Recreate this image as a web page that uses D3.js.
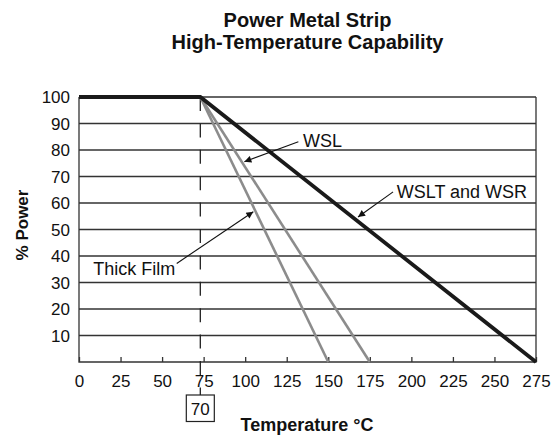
<!DOCTYPE html>
<html><head><meta charset="utf-8">
<script src="https://cdn.jsdelivr.net/npm/d3@7"></script>
<style>
html,body{margin:0;padding:0;background:#fff;}
text{font-family:"Liberation Sans",Arial,Helvetica,sans-serif;fill:#111;}
</style></head>
<body><svg id="c" width="560" height="436"></svg>
<script>
// ---- data ----
const titleLines = ["Power Metal Strip", "High-Temperature Capability"];
const xTicks = [0, 25, 50, 75, 100, 125, 150, 175, 200, 225, 250, 275];
const yTicks = [10, 20, 30, 40, 50, 60, 70, 80, 90, 100];
const kneeTemp = 73;          // where derating begins (drawn position)
const kneeLabel = "70";
const wsltTemp = [0, kneeTemp, 275];
const wsltPower = [100, 100, 0];
const wslTemp = [kneeTemp, 175];
const wslPower = [100, 0];
const thickTemp = [kneeTemp, 150];
const thickPower = [100, 0];
// annotation labels: text, label anchor (temp, power), arrow from (temp, power) to (temp, power)
const annLabels = ["WSL", "WSLT and WSR", "Thick Film"];
const annLabelAt = [[134.8, 81.2], [191.2, 61.8], [8.6, 32.8]];
const annArrowFrom = [[132.0, 83.1], [189.0, 64.2], [58.8, 37.2]];
const annArrowTo = [[99.5, 75.6], [167.9, 54.7], [104.9, 56.7]];

// ---- drawing ----
const svg = d3.select("#c");
const x = d3.scaleLinear().domain([0, 275]).range([79, 536]);
const y = d3.scaleLinear().domain([0, 100]).range([362, 97]);

svg.append("defs").append("marker")
  .attr("id", "ah").attr("viewBox", "0 0 10 10").attr("refX", 10).attr("refY", 5)
  .attr("markerWidth", 9).attr("markerHeight", 7).attr("markerUnits", "userSpaceOnUse")
  .attr("orient", "auto")
  .append("path").attr("d", "M0,0 L10,5 L0,10 z").attr("fill", "#111");

// title
svg.selectAll("text.title").data(titleLines).join("text")
  .attr("class", "title")
  .attr("x", 307.5).attr("y", (d, i) => 26.5 + i * 22.5)
  .attr("text-anchor", "middle").attr("font-size", 20).attr("font-weight", "bold")
  .text(d => d);

// gridlines
svg.append("g").selectAll("line").data(yTicks).join("line")
  .attr("x1", x(0)).attr("x2", x(275)).attr("y1", d => y(d)).attr("y2", d => y(d))
  .attr("stroke", "#333").attr("stroke-width", 1.3);

// frame (left, right, bottom)
svg.append("path")
  .attr("d", `M${x(0)},${y(100)}V${y(0)}H${x(275)}V${y(100)}`)
  .attr("fill", "none").attr("stroke", "#333").attr("stroke-width", 1.3);

// y labels
svg.append("g").selectAll("text").data(yTicks).join("text")
  .attr("x", 70).attr("y", d => y(d)).attr("dy", "0.36em")
  .attr("text-anchor", "end").attr("font-size", 17).text(d => d);

// x axis ticks (inward) + labels
const xAxis = d3.axisBottom(x).tickValues(xTicks).tickSize(-5).tickPadding(10).tickSizeOuter(0);
const gx = svg.append("g").attr("transform", `translate(0,${y(0)})`).call(xAxis);
gx.select(".domain").remove();
gx.selectAll(".tick line").attr("stroke", "#333").attr("stroke-width", 1.3);
gx.selectAll(".tick text").attr("font-size", 17).attr("font-family", "Liberation Sans, Arial, sans-serif")
  .attr("fill", "#111").attr("dy", null).attr("y", 24.5);

// dashed knee line
svg.append("line")
  .attr("x1", x(kneeTemp)).attr("x2", x(kneeTemp)).attr("y1", y(100)).attr("y2", 395)
  .attr("stroke", "#222").attr("stroke-width", 1.3).attr("stroke-dasharray", "14,12.4");

// knee box
svg.append("rect").attr("x", x(kneeTemp) - 14).attr("y", 395).attr("width", 28).attr("height", 26.5)
  .attr("fill", "#fff").attr("stroke", "#222").attr("stroke-width", 1.2);
svg.append("text").attr("x", x(kneeTemp)).attr("y", 414.5).attr("text-anchor", "middle")
  .attr("font-size", 17).text(kneeLabel);

// axis titles
svg.append("text").attr("transform", "translate(27.5,225) rotate(-90)")
  .attr("text-anchor", "middle").attr("font-size", 17).attr("font-weight", "bold").text("% Power");
svg.append("text").attr("x", 307).attr("y", 431).attr("text-anchor", "middle")
  .attr("font-size", 18).attr("font-weight", "bold").text("Temperature °C");

// series
const line = d3.line().x(d => x(d[0])).y(d => y(d[1]));
const zip = (a, b) => a.map((v, i) => [v, b[i]]);
svg.append("path").datum(zip(thickTemp, thickPower)).attr("d", line)
  .attr("fill", "none").attr("stroke", "#8c8c8c").attr("stroke-width", 2.6);
svg.append("path").datum(zip(wslTemp, wslPower)).attr("d", line)
  .attr("fill", "none").attr("stroke", "#8c8c8c").attr("stroke-width", 2.6);
svg.append("path").datum(zip(wsltTemp, wsltPower)).attr("d", line)
  .attr("fill", "none").attr("stroke", "#1a1a1a").attr("stroke-width", 3.8)
  .attr("stroke-linejoin", "miter");

// annotations
annLabels.forEach((t, i) => {
  svg.append("line")
    .attr("x1", x(annArrowFrom[i][0])).attr("y1", y(annArrowFrom[i][1]))
    .attr("x2", x(annArrowTo[i][0])).attr("y2", y(annArrowTo[i][1]))
    .attr("stroke", "#111").attr("stroke-width", 1.1).attr("marker-end", "url(#ah)");
  svg.append("text").attr("x", x(annLabelAt[i][0])).attr("y", y(annLabelAt[i][1]))
    .attr("font-size", 18).text(t);
});
</script></body></html>
